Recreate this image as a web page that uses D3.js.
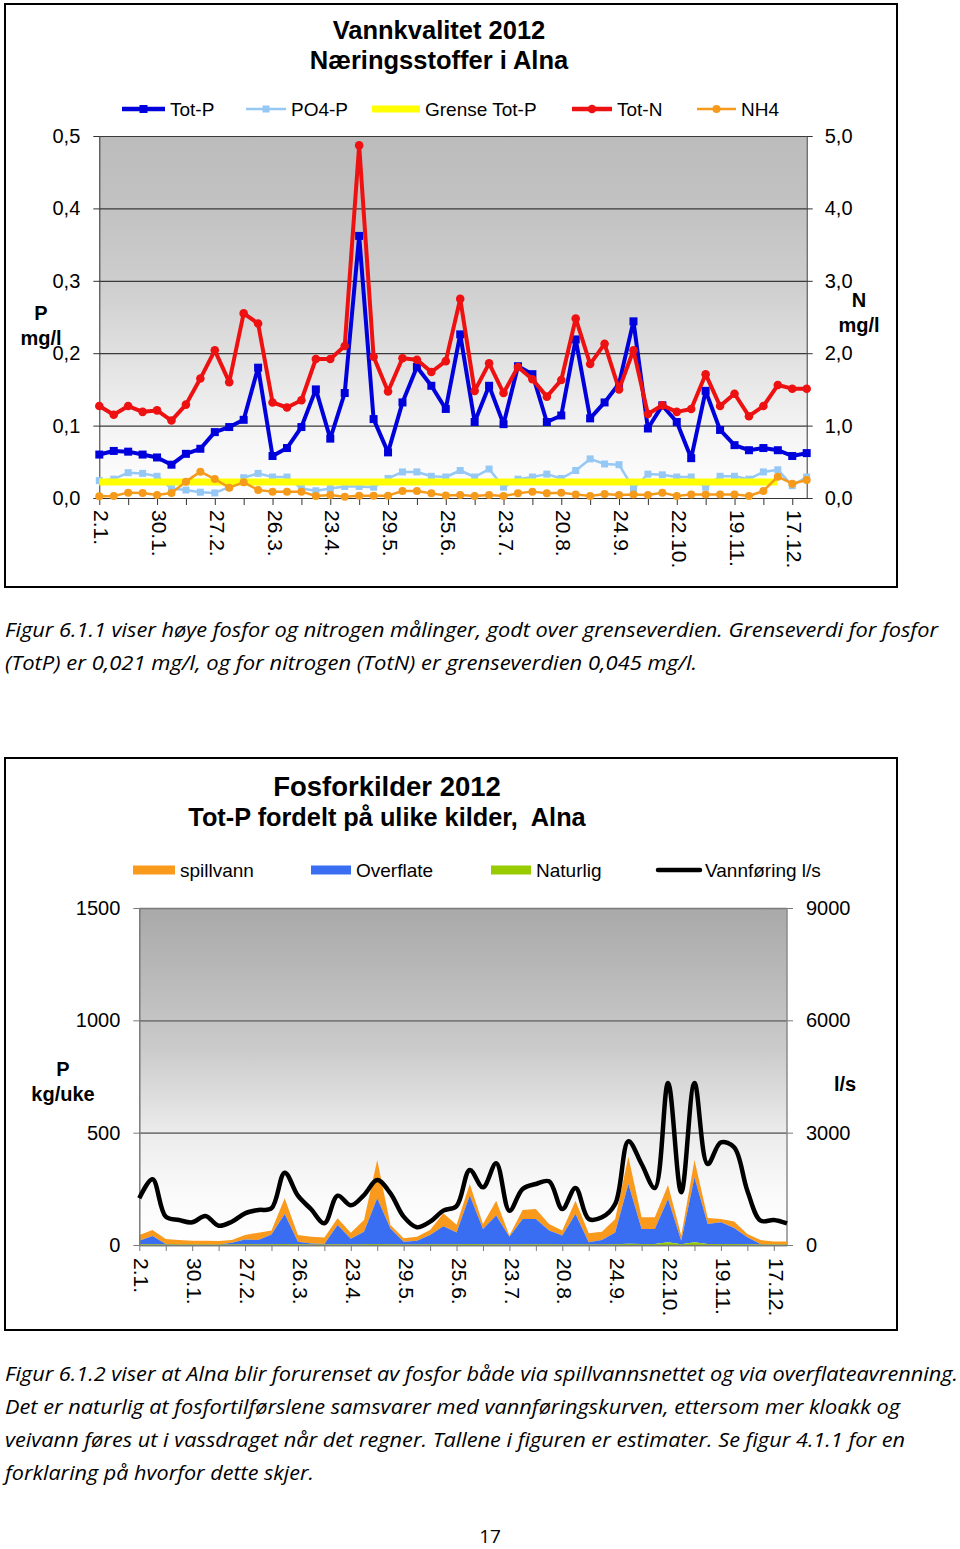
<!DOCTYPE html>
<html><head><meta charset="utf-8">
<script src="https://cdn.jsdelivr.net/npm/d3@7"></script>
<style>
body{margin:0;background:#fff;}
svg text{font-family:"Liberation Sans",Arial,sans-serif;fill:#000;}
.cap{font-family:"Open Sans","Noto Sans",sans-serif !important;font-style:italic;}
</style></head><body>
<svg id="page" width="960" height="1549"></svg>
<script>
// ---------- categories (sampling dates) ----------
const categories = ["2.1.","9.1.","16.1.","23.1.","30.1.","6.2.","13.2.","20.2.","27.2.","5.3.",
"12.3.","19.3.","26.3.","2.4.","9.4.","16.4.","23.4.","30.4.","8.5.","22.5.",
"29.5.","5.6.","12.6.","19.6.","25.6.","2.7.","9.7.","16.7.","23.7.","30.7.",
"6.8.","13.8.","20.8.","27.8.","3.9.","10.9.","24.9.","1.10.","8.10.","15.10.",
"22.10.","29.10.","5.11.","12.11.","19.11.","26.11.","3.12.","10.12.","17.12.","27.12."];

// ---------- chart 1: Vannkvalitet (mg/l) ----------
const totP = [0.060,0.065,0.064,0.060,0.056,0.046,0.061,0.068,0.091,0.098,
0.108,0.180,0.058,0.069,0.098,0.150,0.082,0.145,0.362,0.109,
0.063,0.132,0.181,0.155,0.123,0.226,0.105,0.155,0.102,0.182,
0.171,0.105,0.114,0.219,0.110,0.132,0.158,0.244,0.096,0.128,
0.105,0.055,0.148,0.094,0.073,0.066,0.069,0.066,0.058,0.062];
const po4P = [0.024,0.026,0.035,0.034,0.030,0.013,0.011,0.008,0.007,0.015,
0.028,0.034,0.029,0.029,0.013,0.010,0.013,0.016,0.016,0.015,
0.027,0.036,0.036,0.030,0.029,0.038,0.029,0.040,0.015,0.026,
0.029,0.033,0.027,0.038,0.054,0.047,0.046,0.013,0.033,0.032,
0.029,0.029,0.015,0.030,0.030,0.026,0.036,0.039,0.017,0.029];
const grenseTotP = [0.022,0.022,0.022,0.022,0.022,0.022,0.022,0.022,0.022,0.022,
0.022,0.022,0.022,0.022,0.022,0.022,0.022,0.022,0.022,0.022,
0.022,0.022,0.022,0.022,0.022,0.022,0.022,0.022,0.022,0.022,
0.022,0.022,0.022,0.022,0.022,0.022,0.022,0.022,0.022,0.022,
0.022,0.022,0.022,0.022,0.022,0.022,0.022,0.022,null,null];
const totN = [1.27,1.15,1.27,1.19,1.21,1.07,1.29,1.65,2.04,1.60,
2.55,2.41,1.32,1.25,1.35,1.92,1.92,2.10,4.87,1.95,
1.47,1.93,1.91,1.74,1.89,2.75,1.48,1.86,1.45,1.81,
1.64,1.40,1.63,2.48,1.85,2.13,1.50,2.04,1.16,1.28,
1.19,1.23,1.71,1.27,1.44,1.13,1.27,1.56,1.51,1.51];
const nh4 = [0.023,0.028,0.074,0.069,0.041,0.069,0.226,0.364,0.262,0.143,
0.216,0.110,0.088,0.088,0.088,0.028,0.041,0.018,0.032,0.032,
0.032,0.097,0.097,0.064,0.036,0.041,0.028,0.041,0.028,0.064,
0.088,0.064,0.074,0.050,0.028,0.055,0.041,0.050,0.041,0.074,
0.028,0.050,0.050,0.050,0.050,0.028,0.097,0.295,0.198,0.249];
const pTicks = [0,0.1,0.2,0.3,0.4,0.5];
const nTicks = [0,1,2,3,4,5];

// ---------- chart 2: Fosforkilder (kg/uke, l/s) ----------
const naturlig = [3,3,2,2,2,2,2,2,3,3, 3,5,3,2,2,3,2,3,5,3,
2,2,3,3,3,4,3,3,2,3, 3,3,2,3,2,2,3,6,5,4,
12,3,12,4,5,5,3,2,2,2];
const overflate = [16,37,2,0,0,0,0,8,22,19, 44,133,12,5,2,86,26,56,203,71,
13,17,41,81,53,216,68,128,35,113, 113,61,40,135,10,20,53,265,66,67,
193,16,289,89,96,71,31,2,0,0];
const spillvann = [25,27,23,20,17,17,16,12,19,33, 17,70,29,30,29,30,27,52,170,15,
15,18,23,57,34,51,22,66,5,40, 44,29,22,59,40,37,60,122,52,52,
62,23,77,27,15,29,15,18,14,14];
const vannforing = [1247,1754,757,668,605,775,516,623,846,935,
979,1932,1317,953,579,1317,1059,1335,1736,1380,
757,472,623,917,1040,2003,1540,2181,917,1496,
1629,1700,961,1522,694,739,1095,2769,2163,1522,
4327,1407,4327,2163,2742,2609,1451,650,668,578];
const kgTicks = [0,500,1000,1500];
const lsTicks = [0,3000,6000,9000];

const svg = d3.select("#page");
const defs = svg.append("defs");
function grad(id, stops){
  const g = defs.append("linearGradient").attr("id",id).attr("x1",0).attr("y1",0).attr("x2",0).attr("y2",1);
  stops.forEach(s=>g.append("stop").attr("offset",s[0]).attr("stop-color",s[1]));
}
grad("g1",[["0%","#bcbcbc"],["20%","#c2c2c2"],["40%","#cdcdcd"],["60%","#e0e0e0"],["80%","#f3f3f3"],["100%","#ffffff"]]);
grad("g2",[["0%","#a9a9a9"],["25%","#bdbdbd"],["42%","#cbcbcb"],["67%","#ececec"],["85%","#fafafa"],["100%","#ffffff"]]);

const commaFmt = f => (d => d3.format(f)(d).replace(".",","));

// ================= CHART 1 =================
{
  svg.append("rect").attr("x",5).attr("y",4).attr("width",892).attr("height",583)
    .attr("fill","#fff").attr("stroke","#000").attr("stroke-width",2);
  const L=99.3,R=806.7,T=136,B=498;
  const x = d3.scalePoint().domain(categories).range([L,R]);
  const yP = d3.scaleLinear().domain([0,0.5]).range([B,T]);
  const yN = d3.scaleLinear().domain([0,5]).range([B,T]);
  svg.append("rect").attr("x",L).attr("y",T).attr("width",R-L).attr("height",B-T).attr("fill","url(#g1)");
  svg.append("g").attr("transform",`translate(${L},0)`)
    .call(d3.axisLeft(yP).tickValues(pTicks).tickSize(-(R-L)).tickFormat(""))
    .call(g=>{g.select(".domain").remove(); g.selectAll("line").attr("stroke","#3a3a3a").attr("stroke-width",1.2);});
  svg.append("g").attr("transform",`translate(${L},0)`)
    .call(d3.axisLeft(yP).tickValues(pTicks).tickSizeInner(6).tickSizeOuter(0).tickPadding(13).tickFormat(commaFmt(".1f")))
    .call(g=>{g.selectAll("line,path").attr("stroke","#333");g.selectAll("text").attr("font-size",20).attr("font-family","Liberation Sans, Arial");});
  svg.append("g").attr("transform",`translate(${R},0)`)
    .call(d3.axisRight(yN).tickValues(nTicks).tickSizeInner(6).tickSizeOuter(0).tickPadding(12).tickFormat(commaFmt(".1f")))
    .call(g=>{g.selectAll("line,path").attr("stroke","#333");g.selectAll("text").attr("font-size",20).attr("font-family","Liberation Sans, Arial");});
  svg.append("g").attr("transform",`translate(0,${B})`)
    .call(d3.axisBottom(x).tickValues(categories.filter((d,i)=>i%2===0)).tickSizeInner(7).tickSizeOuter(0)
      .tickFormat(d=>categories.indexOf(d)%4===0?d:""))
    .call(g=>{g.selectAll("line,path").attr("stroke","#333");
      g.selectAll("text").attr("font-size",21).attr("font-family","Liberation Sans, Arial")
       .attr("transform","rotate(90)").attr("text-anchor","start").attr("x",12).attr("y",-2).attr("dy","0.35em");});

  const lineP = d3.line().defined(d=>d.v!=null).x(d=>x(d.c)).y(d=>yP(d.v));
  const lineN = d3.line().defined(d=>d.v!=null).x(d=>x(d.c)).y(d=>yN(d.v));
  const ser = arr => arr.map((v,i)=>({c:categories[i],v}));

  function drawSeries(arr, line, scale, color, width, marker, msize){
    const d = ser(arr);
    svg.append("path").datum(d).attr("d",line).attr("fill","none").attr("stroke",color)
      .attr("stroke-width",width).attr("stroke-linejoin","round");
    if(marker==="sq"){
      svg.append("g").selectAll("rect").data(d.filter(p=>p.v!=null)).join("rect")
        .attr("x",p=>x(p.c)-msize/2).attr("y",p=>scale(p.v)-msize/2).attr("width",msize).attr("height",msize).attr("fill",color);
    } else if(marker==="ci"){
      svg.append("g").selectAll("circle").data(d.filter(p=>p.v!=null)).join("circle")
        .attr("cx",p=>x(p.c)).attr("cy",p=>scale(p.v)).attr("r",msize).attr("fill",color);
    }
  }
  drawSeries(totP, lineP, yP, "#0000dc", 4, "sq", 8);
  drawSeries(po4P, lineP, yP, "#96c8f5", 2.5, "sq", 7);
  drawSeries(grenseTotP, lineP, yP, "#ffff00", 7, null);
  drawSeries(totN, lineN, yN, "#ee1111", 4, "ci", 4.3);
  drawSeries(nh4, lineN, yN, "#f59a1b", 2.5, "ci", 4);

  svg.append("text").attr("x",439).attr("y",39).attr("text-anchor","middle").attr("font-size",25.5).attr("font-weight","bold").text("Vannkvalitet 2012");
  svg.append("text").attr("x",439).attr("y",69).attr("text-anchor","middle").attr("font-size",25.5).attr("font-weight","bold").text("Næringsstoffer i Alna");
  svg.append("text").attr("x",41).attr("y",320).attr("text-anchor","middle").attr("font-size",20).attr("font-weight","bold").text("P");
  svg.append("text").attr("x",41).attr("y",345).attr("text-anchor","middle").attr("font-size",20).attr("font-weight","bold").text("mg/l");
  svg.append("text").attr("x",859).attr("y",307).attr("text-anchor","middle").attr("font-size",20).attr("font-weight","bold").text("N");
  svg.append("text").attr("x",859).attr("y",332).attr("text-anchor","middle").attr("font-size",20).attr("font-weight","bold").text("mg/l");
  const ly=109;
  const leg = [
    {name:"Tot-P",c:"#0000dc",x0:122,x1:165,w:4.5,m:"sq",ms:8},
    {name:"PO4-P",c:"#96c8f5",x0:246,x1:286,w:2.5,m:"sq",ms:7},
    {name:"Grense Tot-P",c:"#ffff00",x0:372,x1:420,w:7,m:null},
    {name:"Tot-N",c:"#ee1111",x0:572,x1:612,w:4.5,m:"ci",ms:4.3},
    {name:"NH4",c:"#f59a1b",x0:697,x1:736,w:2.5,m:"ci",ms:4}
  ];
  leg.forEach(l=>{
    svg.append("line").attr("x1",l.x0).attr("x2",l.x1).attr("y1",ly).attr("y2",ly).attr("stroke",l.c).attr("stroke-width",l.w);
    const cx=(l.x0+l.x1)/2;
    if(l.m==="sq") svg.append("rect").attr("x",cx-l.ms/2).attr("y",ly-l.ms/2).attr("width",l.ms).attr("height",l.ms).attr("fill",l.c);
    if(l.m==="ci") svg.append("circle").attr("cx",cx).attr("cy",ly).attr("r",l.ms).attr("fill",l.c);
    svg.append("text").attr("x",l.x1+5).attr("y",ly+7).attr("font-size",19).text(l.name);
  });
}

// ================= CHART 2 =================
{
  svg.append("rect").attr("x",5).attr("y",758).attr("width",892).attr("height",572)
    .attr("fill","#fff").attr("stroke","#000").attr("stroke-width",2);
  const L=139.3,R=787,T=908,B=1245;
  const x = d3.scalePoint().domain(categories).range([L,R]);
  const yK = d3.scaleLinear().domain([0,1500]).range([B,T]);
  const yL = d3.scaleLinear().domain([0,9000]).range([B,T]);
  svg.append("rect").attr("x",L).attr("y",T).attr("width",R-L).attr("height",B-T).attr("fill","url(#g2)");
  svg.append("g").attr("transform",`translate(${L},0)`)
    .call(d3.axisLeft(yK).tickValues(kgTicks).tickSize(-(R-L)).tickFormat(""))
    .call(g=>{g.select(".domain").remove(); g.selectAll("line").attr("stroke","#7a7a7a").attr("stroke-width",1.6);});
  svg.append("line").attr("x1",R).attr("x2",R).attr("y1",T).attr("y2",B).attr("stroke","#8a8a8a").attr("stroke-width",1.5);

  const rows = categories.map((c,i)=>({c, naturlig:naturlig[i], overflate:overflate[i], spillvann:spillvann[i]}));
  const stack = d3.stack().keys(["naturlig","overflate","spillvann"])(rows);
  const colors = {naturlig:"#99cc00", overflate:"#3a6ef2", spillvann:"#f99a1c"};
  const area = d3.area().x(d=>x(d.data.c)).y0(d=>yK(d[0])).y1(d=>yK(d[1]));
  svg.append("g").selectAll("path").data(stack.slice().reverse()).join("path")
    .attr("d",area).attr("fill",d=>colors[d.key]);

  svg.append("g").attr("transform",`translate(${L},0)`)
    .call(d3.axisLeft(yK).tickValues(kgTicks).tickSizeInner(6).tickSizeOuter(0).tickPadding(13).tickFormat(d3.format("d")))
    .call(g=>{g.selectAll("line,path").attr("stroke","#7a7a7a");g.select(".domain").attr("stroke-width",1.5);g.selectAll("text").attr("font-size",20).attr("font-family","Liberation Sans, Arial");});
  svg.append("g").attr("transform",`translate(${R},0)`)
    .call(d3.axisRight(yL).tickValues(lsTicks).tickSizeInner(6).tickSizeOuter(0).tickPadding(13).tickFormat(d3.format("d")))
    .call(g=>{g.select(".domain").remove();g.selectAll("line").attr("stroke","#7a7a7a");g.selectAll("text").attr("font-size",20).attr("font-family","Liberation Sans, Arial");});
  svg.append("g").attr("transform",`translate(0,${B})`)
    .call(d3.axisBottom(x).tickValues(categories.filter((d,i)=>i%2===0)).tickSizeInner(6).tickSizeOuter(0)
      .tickFormat(d=>categories.indexOf(d)%4===0?d:""))
    .call(g=>{g.selectAll("line,path").attr("stroke","#7a7a7a");g.select(".domain").attr("stroke-width",1.5);
      g.selectAll("text").attr("font-size",21).attr("font-family","Liberation Sans, Arial")
       .attr("transform","rotate(90)").attr("text-anchor","start").attr("x",13).attr("y",-2).attr("dy","0.35em");});

  const vl = d3.line().curve(d3.curveCatmullRom.alpha(0.5)).x((d,i)=>x(categories[i])).y(d=>yL(d));
  svg.append("path").datum(vannforing).attr("d",vl).attr("fill","none").attr("stroke","#000")
    .attr("stroke-width",4.5).attr("stroke-linejoin","round");

  svg.append("text").attr("x",387).attr("y",796).attr("text-anchor","middle").attr("font-size",27.5).attr("font-weight","bold").text("Fosforkilder 2012");
  svg.append("text").attr("x",387).attr("y",826).attr("text-anchor","middle").attr("font-size",25.3).attr("font-weight","bold").style("white-space","pre").text("Tot-P fordelt på ulike kilder,  Alna");
  svg.append("text").attr("x",63).attr("y",1076).attr("text-anchor","middle").attr("font-size",20).attr("font-weight","bold").text("P");
  svg.append("text").attr("x",63).attr("y",1101).attr("text-anchor","middle").attr("font-size",20).attr("font-weight","bold").text("kg/uke");
  svg.append("text").attr("x",845).attr("y",1091).attr("text-anchor","middle").attr("font-size",20).attr("font-weight","bold").text("l/s");

  const ly=870;
  const leg = [
    {name:"spillvann",c:"#f99a1c",x0:133,x1:175,t:"rect"},
    {name:"Overflate",c:"#3a6ef2",x0:311,x1:351,t:"rect"},
    {name:"Naturlig",c:"#99cc00",x0:491,x1:531,t:"rect"},
    {name:"Vannføring l/s",c:"#000",x0:658,x1:700,t:"line"}
  ];
  leg.forEach(l=>{
    if(l.t==="rect") svg.append("rect").attr("x",l.x0).attr("y",ly-4.5).attr("width",l.x1-l.x0).attr("height",9).attr("fill",l.c);
    else svg.append("line").attr("x1",l.x0).attr("x2",l.x1).attr("y1",ly).attr("y2",ly).attr("stroke",l.c).attr("stroke-width",4.5).attr("stroke-linecap","round");
    svg.append("text").attr("x",l.x1+5).attr("y",ly+7).attr("font-size",19).text(l.name);
  });
}

// ================= captions =================
const captions = [
  {t:"Figur 6.1.1 viser høye fosfor og nitrogen målinger, godt over grenseverdien. Grenseverdi for fosfor", y:637, w:933},
  {t:"(TotP) er 0,021 mg/l, og for nitrogen (TotN) er grenseverdien 0,045 mg/l.", y:670, w:692},
  {t:"Figur 6.1.2 viser at Alna blir forurenset av fosfor både via spillvannsnettet og via overflateavrenning.", y:1381, w:953},
  {t:"Det er naturlig at fosfortilførslene samsvarer med vannføringskurven, ettersom mer kloakk og", y:1414, w:895},
  {t:"veivann føres ut i vassdraget når det regner. Tallene i figuren er estimater. Se figur 4.1.1 for en", y:1447, w:900},
  {t:"forklaring på hvorfor dette skjer.", y:1480, w:309}
];
captions.forEach(c=>{
  svg.append("text").attr("class","cap").attr("x",5).attr("y",c.y).attr("font-size",19.5)
    .attr("textLength",c.w).attr("lengthAdjust","spacingAndGlyphs").text(c.t);
});
svg.append("text").attr("x",490).attr("y",1543).attr("text-anchor","middle").attr("font-size",19)
  .style("font-family","'Open Sans','Noto Sans',sans-serif").text("17");
</script>
</body></html>
